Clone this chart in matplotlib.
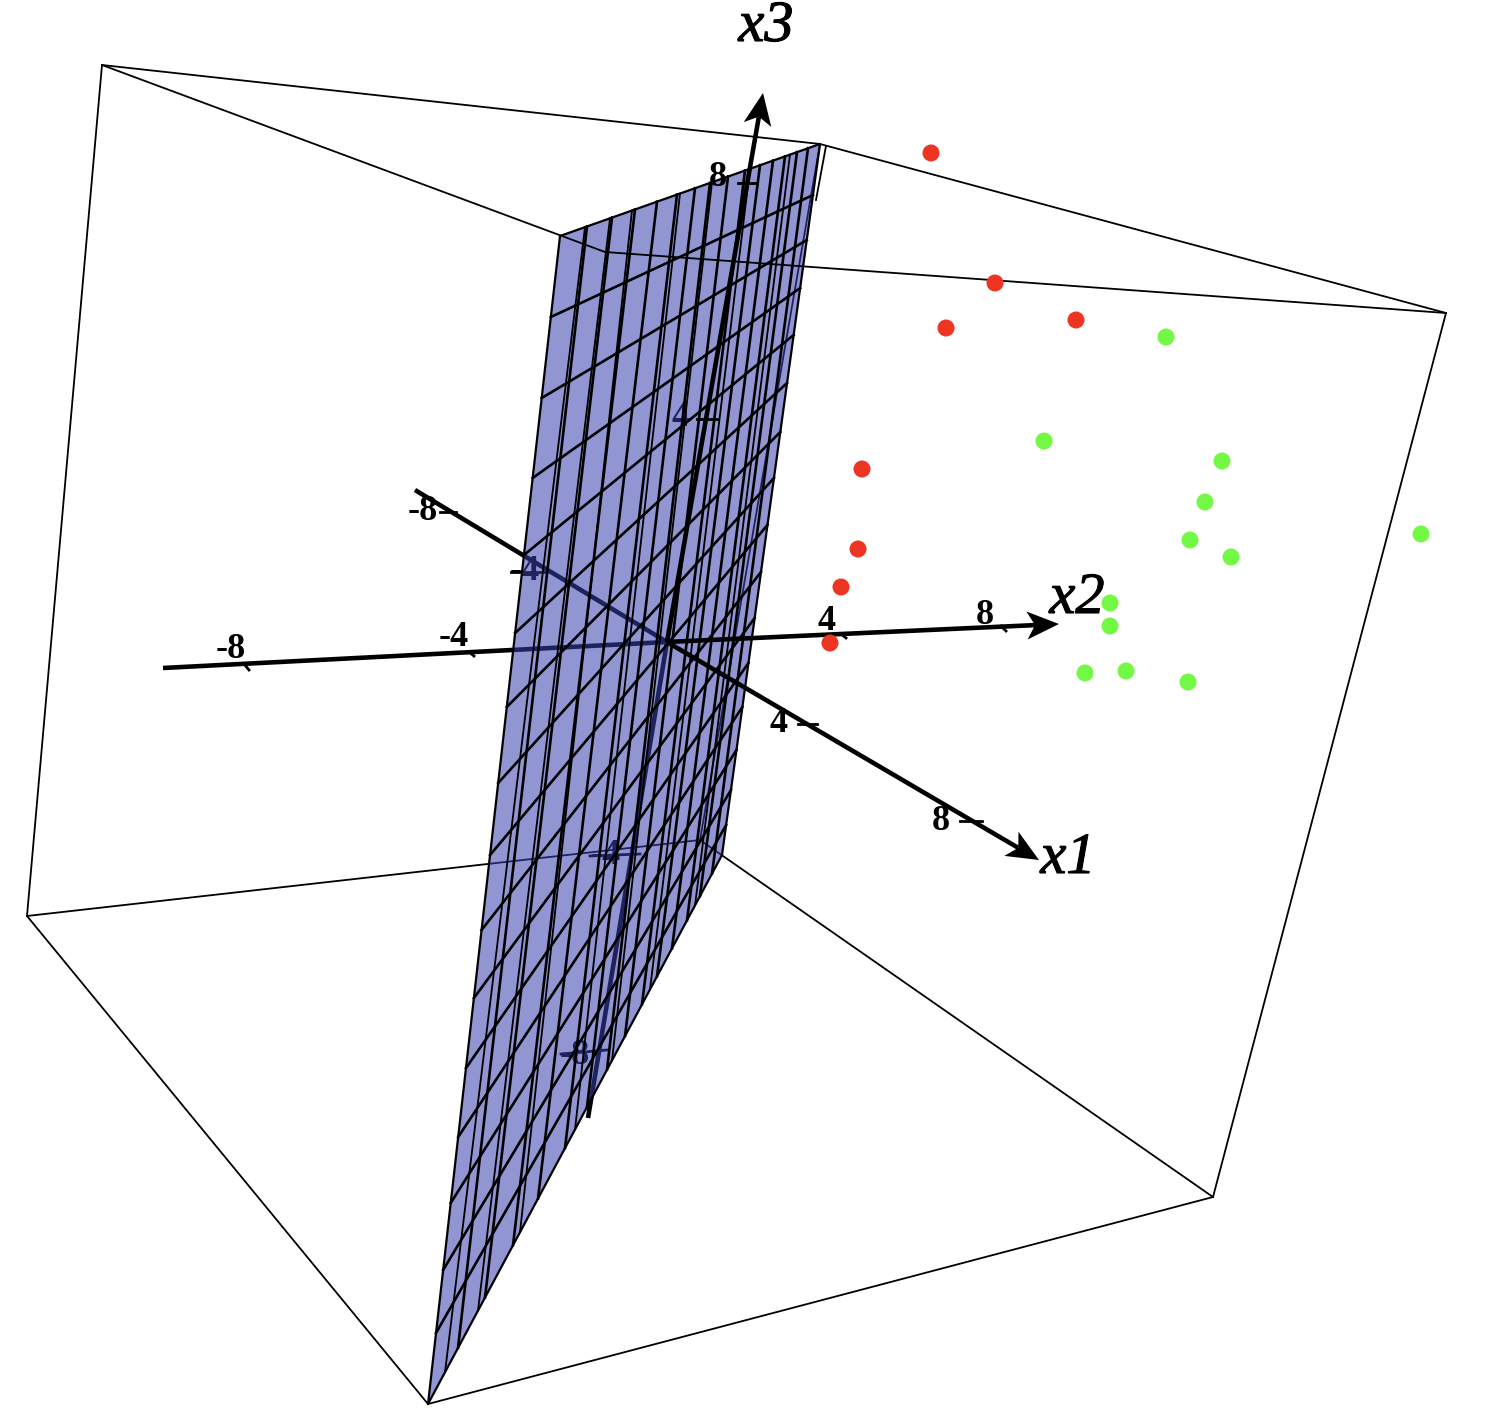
import matplotlib
matplotlib.use("Agg")
import matplotlib.pyplot as plt
import matplotlib.patheffects as pe
import numpy as np
from matplotlib.patches import Polygon

W, H = 1490, 1418

# picture coordinates (x to the right, y downward)
red_x = [931, 995, 946, 1076, 862, 858, 841, 830]
red_y = [153, 283, 328, 320, 469, 549, 587, 643]
green_x = [1166, 1044, 1222, 1205, 1190, 1231, 1421, 1110, 1110, 1085, 1126, 1188]
green_y = [337, 441, 461, 502, 540, 557, 534, 603, 626, 673, 671, 682]

plane_x = [560, 820, 722, 428]
plane_y = [236, 144, 855, 1404]

# mesh: rung ends on the left and right plane edges, rib ends on top and bottom edges
rung_left_y = [317, 398, 478, 555, 633, 707, 783, 855, 930, 998, 1068, 1137, 1203, 1270, 1333]
rung_right_y = [195, 240, 288, 335, 383, 432, 478, 525, 572, 618, 663, 707, 750, 790, 825]
rib_top_x = [587, 612, 635, 657, 677, 695, 710, 728, 745, 760, 773, 785, 797, 808]
rib_bottom_x = [458, 485, 513, 538, 565, 587, 607, 625, 642, 657, 672, 687, 700, 712]
rib2_top_x = [585, 610, 632, 680, 712, 750, 790]
rib2_bottom_x = [445, 478, 520, 575, 612, 650, 695]

# box edges in front of and behind the plane
front_edges = [
    ((102, 65), (820, 144)), ((820, 144), (1446, 313)), ((1446, 313), (1213, 1197)),
    ((1213, 1197), (428, 1404)), ((428, 1404), (27, 916)), ((27, 916), (102, 65)),
    ((102, 65), (605, 252)), ((605, 252), (1446, 313)), ((826, 146), (816, 200)),
]
back_edges = [((820, 144), (700, 840)), ((27, 916), (700, 840)), ((700, 840), (1213, 1197))]

origin = (667, 642)
x1_ends = ((415, 490), (1039, 860))
x2_ends = ((163, 668), (1059, 624))
x3_ends = ((588, 1118), (763, 93))

tick_segments_front = [
    ((960, 821), (982, 821)), ((798, 724), (817, 724)), ((440, 512), (456, 512)),
    ((738, 183), (757, 183)), ((697, 419), (717, 419)),
    ((244, 664), (249, 670)), ((469, 652), (474, 656)), ((841, 634), (846, 638)), ((1001, 626), (1006, 631)),
]
tick_segments_back = [((511, 572), (545, 572)), ((590, 856), (640, 854)), ((561, 1054), (607, 1050))]

tick_labels_front = [("8", 941, 822), ("4", 779, 724), ("-8", 423, 512), ("-8", 231, 649),
                     ("-4", 454, 638), ("4", 826, 621), ("8", 985, 615), ("8", 718, 178)]
tick_labels_back = [("-4", 525, 572), ("4", 680, 418), ("-4", 606, 855), ("-8", 575, 1055)]
axis_names = [("x1", 1068, 873), ("x2", 1077, 613), ("x3", 766, 41)]


def along(p, q, y):
    return p[0] + (q[0] - p[0]) * (y - p[1]) / (q[1] - p[1])


fig = plt.figure(figsize=(W / 100, H / 100), dpi=100)
ax = fig.add_axes([0, 0, 1, 1])
ax.set_xlim(0, W)
ax.set_ylim(H, 0)
ax.axis("off")

serif = "Liberation Serif"
AXIS_LW = 3.3

# behind the plane
for p, q in back_edges:
    ax.plot([p[0], q[0]], [p[1], q[1]], color="black", lw=1.3, zorder=1)
for end in (x1_ends[0], x2_ends[0], x3_ends[0]):
    ax.plot([end[0], origin[0]], [end[1], origin[1]], color="black", lw=AXIS_LW, zorder=1, solid_capstyle="butt")
for p, q in tick_segments_back:
    ax.plot([p[0], q[0]], [p[1], q[1]], color="black", lw=2.0, zorder=1)
for s, x, y in tick_labels_back:
    ax.text(x, y, s, family=serif, weight="bold", fontsize=26, ha="center", va="center", zorder=1)

# the plane
A, B, C, D = [(px, py) for px, py in zip(plane_x, plane_y)]
ax.add_patch(Polygon(list(zip(plane_x, plane_y)), closed=True, facecolor="#3841b0", alpha=0.55,
                     edgecolor="none", zorder=2))
for yl, yr in zip(rung_left_y, rung_right_y):
    ax.plot([along(A, D, yl), along(B, C, yr)], [yl, yr], color="black", lw=1.9, zorder=3)


def bottom_y(x):
    return D[1] + (C[1] - D[1]) * (x - D[0]) / (C[0] - D[0])


def top_y(x):
    return A[1] + (B[1] - A[1]) * (x - A[0]) / (B[0] - A[0])


for xt, xb in zip(rib_top_x, rib_bottom_x):
    ax.plot([xt, xb], [top_y(xt), bottom_y(xb)], color="black", lw=1.9, zorder=3)
for xt, xb in zip(rib2_top_x, rib2_bottom_x):
    ax.plot([xt, xb], [top_y(xt), bottom_y(xb)], color="black", lw=1.3, zorder=3)
ax.plot(plane_x + plane_x[:1], plane_y + plane_y[:1], color="black", lw=1.6, zorder=3)

# front box edges
for p, q in front_edges:
    ax.plot([p[0], q[0]], [p[1], q[1]], color="black", lw=1.3, zorder=4)

# visible axis parts with notched arrow heads
for ends in (x1_ends, x2_ends, x3_ends):
    tip = np.array(ends[1], float)
    d = tip - np.array(origin, float)
    d /= np.hypot(*d)
    n = np.array([-d[1], d[0]])
    ax.plot([origin[0], tip[0] - 24 * d[0]], [origin[1], tip[1] - 24 * d[1]], color="black", lw=AXIS_LW,
            zorder=5, solid_capstyle="butt")
    ax.add_patch(Polygon([tip, tip - 32 * d + 14 * n, tip - 24 * d, tip - 32 * d - 14 * n], closed=True,
                         facecolor="black", edgecolor="none", zorder=5))
for p, q in tick_segments_front:
    ax.plot([p[0], q[0]], [p[1], q[1]], color="black", lw=2.0, zorder=5)
for s, x, y in tick_labels_front:
    ax.text(x, y, s, family=serif, weight="bold", fontsize=26, ha="center", va="center", zorder=6)
for s, x, y in axis_names:
    ax.text(x, y, s, family=serif, style="italic", fontsize=42, ha="center", va="baseline", zorder=6,
            path_effects=[pe.withStroke(linewidth=0.8, foreground="black")])

ax.scatter(red_x, red_y, s=150, color="#ee3524", edgecolors="none", zorder=7)
ax.scatter(green_x, green_y, s=150, color="#72f945", edgecolors="none", zorder=7)

fig.savefig("out.png", dpi=100)
